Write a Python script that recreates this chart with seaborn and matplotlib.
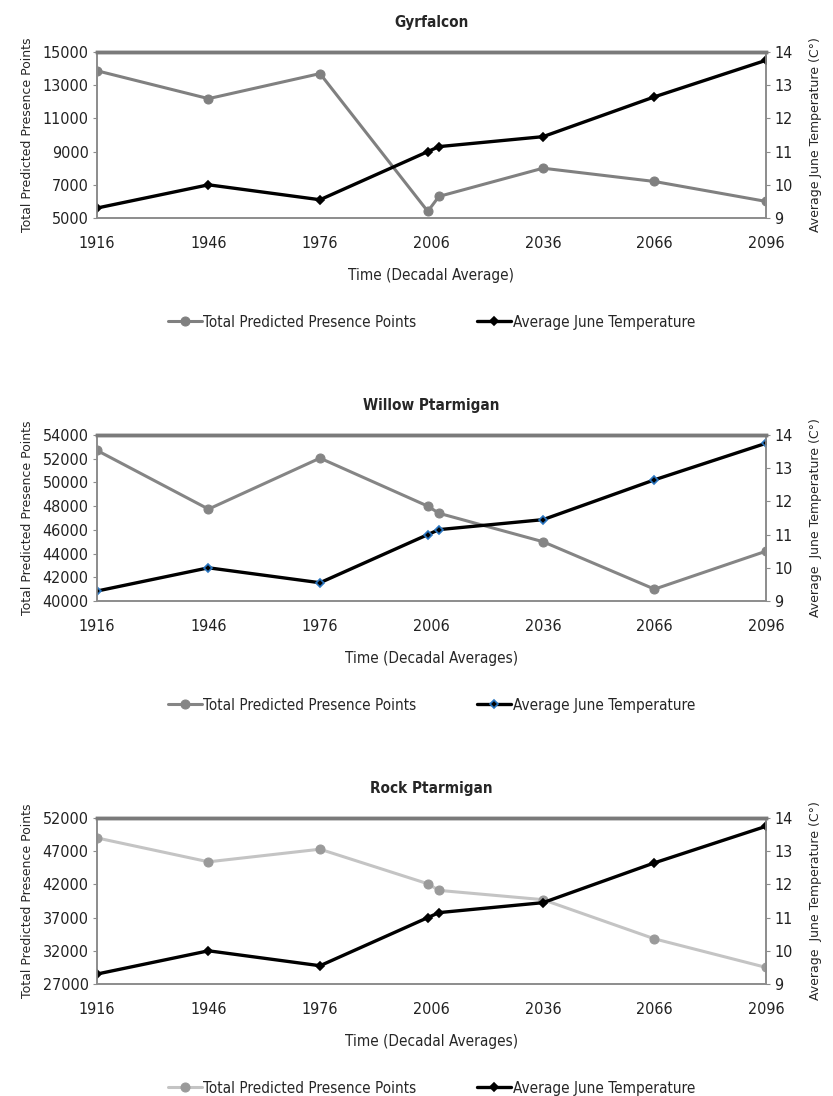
import matplotlib
matplotlib.use("Agg")
import matplotlib.pyplot as plt
from matplotlib.font_manager import FontProperties
import seaborn as sns
import pandas as pd

# decadal averages (x positions follow the original Excel axis)
years = [1916, 1946, 1976, 2005, 2008, 2036, 2066, 2096]
tick_years = [1916, 1946, 1976, 2006, 2036, 2066, 2096]

june_temp = [9.3, 10.0, 9.55, 11.0, 11.15, 11.45, 12.65, 13.75]

gyrfalcon = [13870, 12190, 13700, 5400, 6300, 8000, 7200, 6000]
willow = [52700, 47750, 52050, 48000, 47400, 45000, 41000, 44200]
rock = [49000, 45400, 47300, 42100, 41100, 39700, 33800, 29500]

titles = ["Gyrfalcon", "Willow Ptarmigan", "Rock Ptarmigan"]
xlabels = ["Time (Decadal Average)", "Time (Decadal Averages)", "Time (Decadal Averages)"]
right_labels = ["Average June Temperature (C°)", "Average  June Temperature (C°)",
                "Average  June Temperature (C°)"]
left_ticks = [list(range(5000, 15001, 2000)),
              list(range(40000, 54001, 2000)),
              list(range(27000, 52001, 5000))]
presence = [gyrfalcon, willow, rock]
line_cols = ["#808080", "#858585", "#c4c4c4"]
mark_cols = ["#808080", "#858585", "#9a9a9a"]
temp_edge = ["black", "#2a75c0", "black"]

sns.set_style("white")
plt.rcParams["font.family"] = ["DejaVu Sans"]
plt.rcParams["font.stretch"] = "condensed"

# the axis titles use a wider face than the ticks
wide = FontProperties(family="DejaVu Sans", stretch="normal", size=9)

fig = plt.figure(figsize=(8.33, 10.96), dpi=100)

W, H = 833, 1096
for i in range(3):
    top = 52 + 383 * i
    bot = top + 166
    ax = fig.add_axes([97 / W, 1 - bot / H, (766 - 97) / W, (bot - top) / H])
    df = pd.DataFrame({"year": years, "pres": presence[i], "temp": june_temp})

    sns.lineplot(data=df, x="year", y="pres", ax=ax, color=line_cols[i], lw=2.2,
                 marker="o", markersize=6.5, markerfacecolor=mark_cols[i],
                 markeredgecolor=mark_cols[i], label="Total Predicted Presence Points",
                 legend=False)
    ax2 = ax.twinx()
    sns.lineplot(data=df, x="year", y="temp", ax=ax2, color="black", lw=2.4,
                 marker="D", markersize=4.5, markerfacecolor="black",
                 markeredgecolor=temp_edge[i], markeredgewidth=1.2,
                 label="Average June Temperature", legend=False)

    lt = left_ticks[i]
    ax.set_ylim(lt[0], lt[-1])
    ax.set_yticks(lt)
    ax.set_xlim(1916, 2096)
    ax.set_xticks(tick_years)
    ax2.set_ylim(9, 14)
    ax2.set_yticks(range(9, 15))

    for a in (ax, ax2):
        for s in a.spines.values():
            s.set_color("#8c8c8c")
            s.set_linewidth(1.2)
        a.spines["top"].set_linewidth(2.5)
        a.spines["top"].set_color("#7a7a7a")
        a.tick_params(labelsize=11.5, length=3, width=0.8, color="#8c8c8c", pad=3,
                      labelcolor="#222222")
    ax.tick_params(axis="x", pad=10)

    ax.set_title(titles[i], fontsize=11, fontweight="bold", pad=18)
    ax.set_xlabel(xlabels[i], fontsize=11, labelpad=12)
    ax.set_ylabel("Total Predicted Presence Points", fontproperties=wide, labelpad=6)
    ax2.set_ylabel(right_labels[i], fontproperties=wide, labelpad=12)

    h1, l1 = ax.get_legend_handles_labels()
    h2, l2 = ax2.get_legend_handles_labels()
    ax.legend(h1 + h2, l1 + l2, loc="upper center", bbox_to_anchor=(0.5, -0.5),
              ncol=2, frameon=False, fontsize=11, handlelength=2.2,
              handletextpad=0.1, columnspacing=4)

fig.savefig("out.png", dpi=100)
